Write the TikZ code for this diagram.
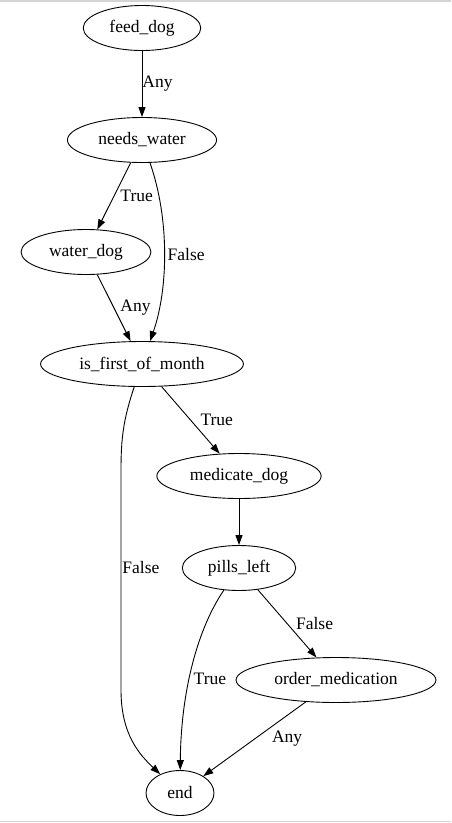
\documentclass[tikz,border=0pt]{standalone}
\usepackage{fontspec}
\setmainfont{Liberation Serif}
\usetikzlibrary{positioning,shapes.geometric,arrows.meta}

\tikzset{
  step node/.style={draw, ellipse, line width=0.9pt, minimum height=45pt, inner xsep=9pt, inner ysep=2pt, font=\fontsize{17.5}{20}\selectfont},
  flow/.style={line width=0.9pt, -{Triangle[length=10pt,width=7pt]}},
  lbl/.style={anchor=west, inner sep=0pt, font=\fontsize{17.5}{20}\selectfont}
}

\begin{document}
\begin{tikzpicture}[x=1pt, y=-1pt, on grid, node distance=112pt]
\useasboundingbox (0,0) rectangle (451,823);
\fill[black!17] (0,0) rectangle (451,1.5);
\fill[black!17] (0,820.5) rectangle (451,822);

\node [step node] (feed) at (142,28) {feed\_dog}; \node [step node, below = of feed] (needs) {needs\_water}; \node [step node, below = of needs, xshift=-56pt] (water) {water\_dog}; \node [step node, below = of water, xshift=56pt] (first) {is\_first\_of\_month}; 

\node [step node, below = of first, xshift=97pt] (medicate) {medicate\_dog}; \node [step node, below = 92pt of medicate] (pills) {pills\_left}; \node [step node, below = of pills, xshift=97pt] (order) {order\_medication}; \node [step node, minimum width=68pt, below = 113pt of order, xshift=-156pt] (end) {end}; 

\draw [flow] (feed) -- node [lbl] {Any} (needs); \draw [flow] (needs) -- node [lbl, xshift=6pt] {True} (water); \draw [flow] (needs) .. controls (170,220) and (168,290) .. node [lbl, xshift=3pt] {False} (first); \draw [flow] (water) -- node [lbl, xshift=6pt] {Any} (first); 

\draw [flow] (first) -- node [lbl, xshift=9.5pt] {True} (medicate); \draw [flow] (first) .. controls (123,420) and (121,440) .. (121,470) -- node [lbl, pos=.445, xshift=1pt] {False} (121,690) .. controls (121,735) and (140,755) .. (end); \draw [flow] (medicate) -- (pills); 

\draw [flow] (pills) -- node [lbl, xshift=8.5pt] {False} (order); \draw [flow] (pills) .. controls (198,628) and (181,690) .. node [lbl, pos=.58, xshift=4pt] {True} (end); \draw [flow] (order) -- node [lbl, xshift=17pt] {Any} (end); 
\end{tikzpicture}
\end{document}
